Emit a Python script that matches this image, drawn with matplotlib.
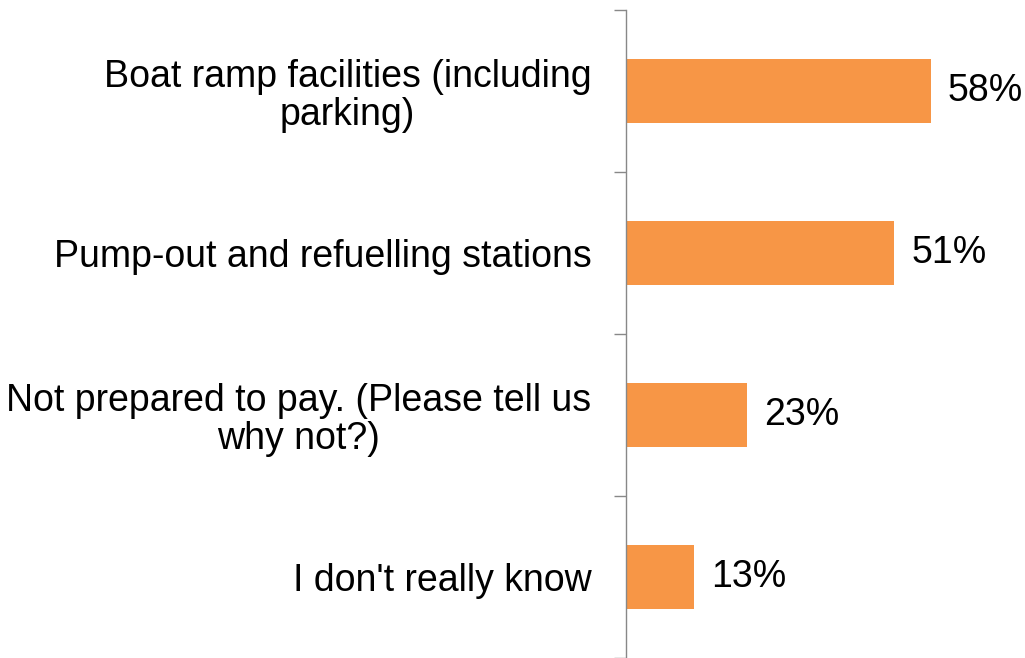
import matplotlib
matplotlib.use("Agg")
import matplotlib.pyplot as plt
import numpy as np

categories = ["Boat ramp facilities (including\nparking)",
              "Pump-out and refuelling stations",
              "Not prepared to pay. (Please tell us\nwhy not?)",
              "I don't really know"]
values = [58, 51, 23, 13]
value_labels = ["58%", "51%", "23%", "13%"]

plt.rcParams['font.family'] = ['Liberation Sans', 'DejaVu Sans']

fig = plt.figure(figsize=(10.25, 6.58), dpi=100)
W, H = 1025, 658
ax = fig.add_axes([626/W, 0/H, (W-626)/W, (658-10)/H])

y = np.arange(len(categories))
ax.barh(y, values, height=0.4, color="#F79646")
ax.set_ylim(len(categories)-0.5, -0.5)
ax.set_xlim(0, 399/5.26)

for yi, v, lab in zip(y, values, value_labels):
    ax.text(v + 3.2, yi, lab, va="center", ha="left", fontsize=27)

ax.set_yticks(np.arange(-0.5, len(categories), 1.0))
ax.set_yticklabels([])
ax.set_yticks(y, minor=True)
ax.set_yticklabels(categories, minor=True, fontsize=27, ha="right",
                   multialignment="center", linespacing=1.08)
ax.tick_params(axis="y", which="minor", length=0, pad=25)
ax.tick_params(axis="y", which="major", length=9, width=1, color="#888888", direction="out")
ax.set_xticks([])
for s in ["top", "right", "bottom"]:
    ax.spines[s].set_visible(False)
ax.spines["left"].set_color("#888888")
ax.spines["left"].set_linewidth(1)

fig.savefig("out.png", dpi=100)
